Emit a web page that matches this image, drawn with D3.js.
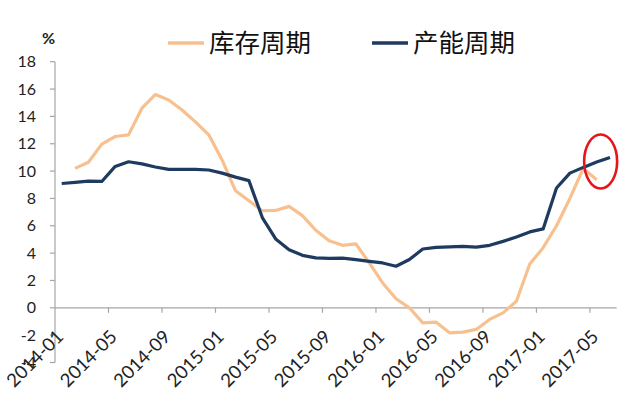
<!DOCTYPE html>
<html>
<head>
<meta charset="utf-8">
<script src="https://cdn.jsdelivr.net/npm/d3@7"></script>
<style>
  body { margin: 0; background: #fff; }
  svg { display: block; }
  .tick-label { font-family: Lato, "Open Sans", sans-serif; fill: #222; }
  .legend-text { font-family: "Noto Sans CJK SC", sans-serif; font-size: 25.5px; fill: #111; }
</style>
</head>
<body>
<div class="chart"></div>
<script>
let width = 640,
    height = 394;

// months on the category axis
const months = [
    "2014-01", "2014-02", "2014-03", "2014-04", "2014-05", "2014-06", "2014-07", "2014-08", "2014-09", "2014-10", "2014-11", "2014-12",
    "2015-01", "2015-02", "2015-03", "2015-04", "2015-05", "2015-06", "2015-07", "2015-08", "2015-09", "2015-10", "2015-11", "2015-12",
    "2016-01", "2016-02", "2016-03", "2016-04", "2016-05", "2016-06", "2016-07", "2016-08", "2016-09", "2016-10", "2016-11", "2016-12",
    "2017-01", "2017-02", "2017-03", "2017-04", "2017-05", "2017-06"
];

// 库存周期 (no value for first and last month)
const inventory = [
    null, 10.2, 10.65, 11.97, 12.53, 12.65, 14.6, 15.6, 15.2, 14.47, 13.6, 12.65,
    10.8, 8.56, 7.83, 7.1, 7.12, 7.42, 6.74, 5.67, 4.91, 4.57, 4.67, 3.28,
    1.82, 0.66, 0.0, -1.1, -1.05, -1.83, -1.78, -1.58, -0.85, -0.37, 0.48, 3.2,
    4.4, 6.0, 8.0, 10.2, 9.36, null
];

// 产能周期
const capacity = [
    9.09, 9.17, 9.27, 9.24, 10.34, 10.68, 10.53, 10.3, 10.12, 10.13, 10.12, 10.08,
    9.85, 9.56, 9.3, 6.6, 5.04, 4.25, 3.84, 3.65, 3.62, 3.63, 3.53, 3.4,
    3.28, 3.04, 3.53, 4.3, 4.42, 4.45, 4.5, 4.44, 4.57, 4.86, 5.18, 5.55,
    5.77, 8.76, 9.85, 10.27, 10.66, 11.0
];

const yTicks = [-4, -2, 0, 2, 4, 6, 8, 10, 12, 14, 16, 18];
const seriesNames = ["库存周期", "产能周期"];
const colors = ["#F8C08E", "#1F3A60"];

var svg = d3.select(".chart")
    .append("svg")
    .attr("width", width)
    .attr("height", height);

var x = d3.scaleBand().domain(months).range([55, 616.7]).padding(0);
var y = d3.scaleLinear().domain([-4, 18]).range([362.5, 61.7]);

// y axis
svg.append("line")
    .attr("x1", x.range()[0]).attr("x2", x.range()[0])
    .attr("y1", y(18)).attr("y2", y(-4))
    .attr("stroke", "#a6a6a6").attr("stroke-width", 1.2);

svg.selectAll(".ytick")
    .data(yTicks)
    .enter()
    .append("line")
    .attr("class", "ytick")
    .attr("x1", 50).attr("x2", 55)
    .attr("y1", d => y(d)).attr("y2", d => y(d))
    .attr("stroke", "#a6a6a6").attr("stroke-width", 1.2);

svg.selectAll(".ylabel")
    .data(yTicks)
    .enter()
    .append("text")
    .attr("class", "tick-label")
    .attr("x", 36)
    .attr("y", d => y(d))
    .attr("dy", "0.35em")
    .style("font-size", "16px")
    .style("text-anchor", "end")
    .text(d => d);

// x axis at zero
svg.append("line")
    .attr("x1", x.range()[0]).attr("x2", x.range()[1])
    .attr("y1", y(0)).attr("y2", y(0))
    .attr("stroke", "#a6a6a6").attr("stroke-width", 1.2);

var shown = months.filter((m, i) => i % 4 == 0);

svg.selectAll(".xtick")
    .data(shown.slice(1))
    .enter()
    .append("line")
    .attr("class", "xtick")
    .attr("x1", d => x(d)).attr("x2", d => x(d))
    .attr("y1", y(0)).attr("y2", y(0) + 5)
    .attr("stroke", "#a6a6a6").attr("stroke-width", 1.2);

svg.selectAll(".xlabel")
    .data(shown)
    .enter()
    .append("text")
    .attr("class", "tick-label")
    .attr("transform", d => `translate(${x(d) + x.bandwidth() / 2 + 3}, ${y(0) + 30}) rotate(-45)`)
    .style("font-size", "18.5px")
    .style("text-anchor", "end")
    .text(d => d);

// % unit
svg.append("text")
    .attr("x", 42).attr("y", 44)
    .style("font-family", "Lato, sans-serif")
    .style("font-size", "16px")
    .style("font-weight", "bold")
    .style("fill", "#222")
    .text("%");

// lines
var line = d3.line()
    .defined(d => d.v !== null)
    .x(d => x(d.m) + x.bandwidth() / 2)
    .y(d => y(d.v));

[inventory, capacity].forEach(function (vals, k) {
    svg.append("path")
        .datum(months.map((m, i) => ({ m: m, v: vals[i] })))
        .attr("fill", "none")
        .attr("stroke", colors[k])
        .attr("stroke-width", 3.2)
        .attr("stroke-linejoin", "round")
        .attr("d", line);
});

// red highlight ellipse around latest months
svg.append("ellipse")
    .attr("cx", x("2017-05") + x.bandwidth() / 2 + 4)
    .attr("cy", y(10.7))
    .attr("rx", 16.5)
    .attr("ry", 27)
    .attr("fill", "none")
    .attr("stroke", "#e8141b")
    .attr("stroke-width", 2.6);

// legend
var legendPos = [168, 372];
var legend = svg.selectAll(".legend")
    .data(seriesNames)
    .enter()
    .append("g")
    .attr("class", "legend")
    .attr("transform", (d, i) => `translate(${legendPos[i]}, 43)`);

legend.append("line")
    .attr("x1", 0).attr("x2", 36)
    .attr("y1", 0).attr("y2", 0)
    .attr("stroke", (d, i) => colors[i])
    .attr("stroke-width", 3.5);

legend.append("text")
    .attr("class", "legend-text")
    .attr("x", 41)
    .attr("y", 0)
    .attr("dy", "0.36em")
    .text(d => d);
</script>
</body>
</html>
